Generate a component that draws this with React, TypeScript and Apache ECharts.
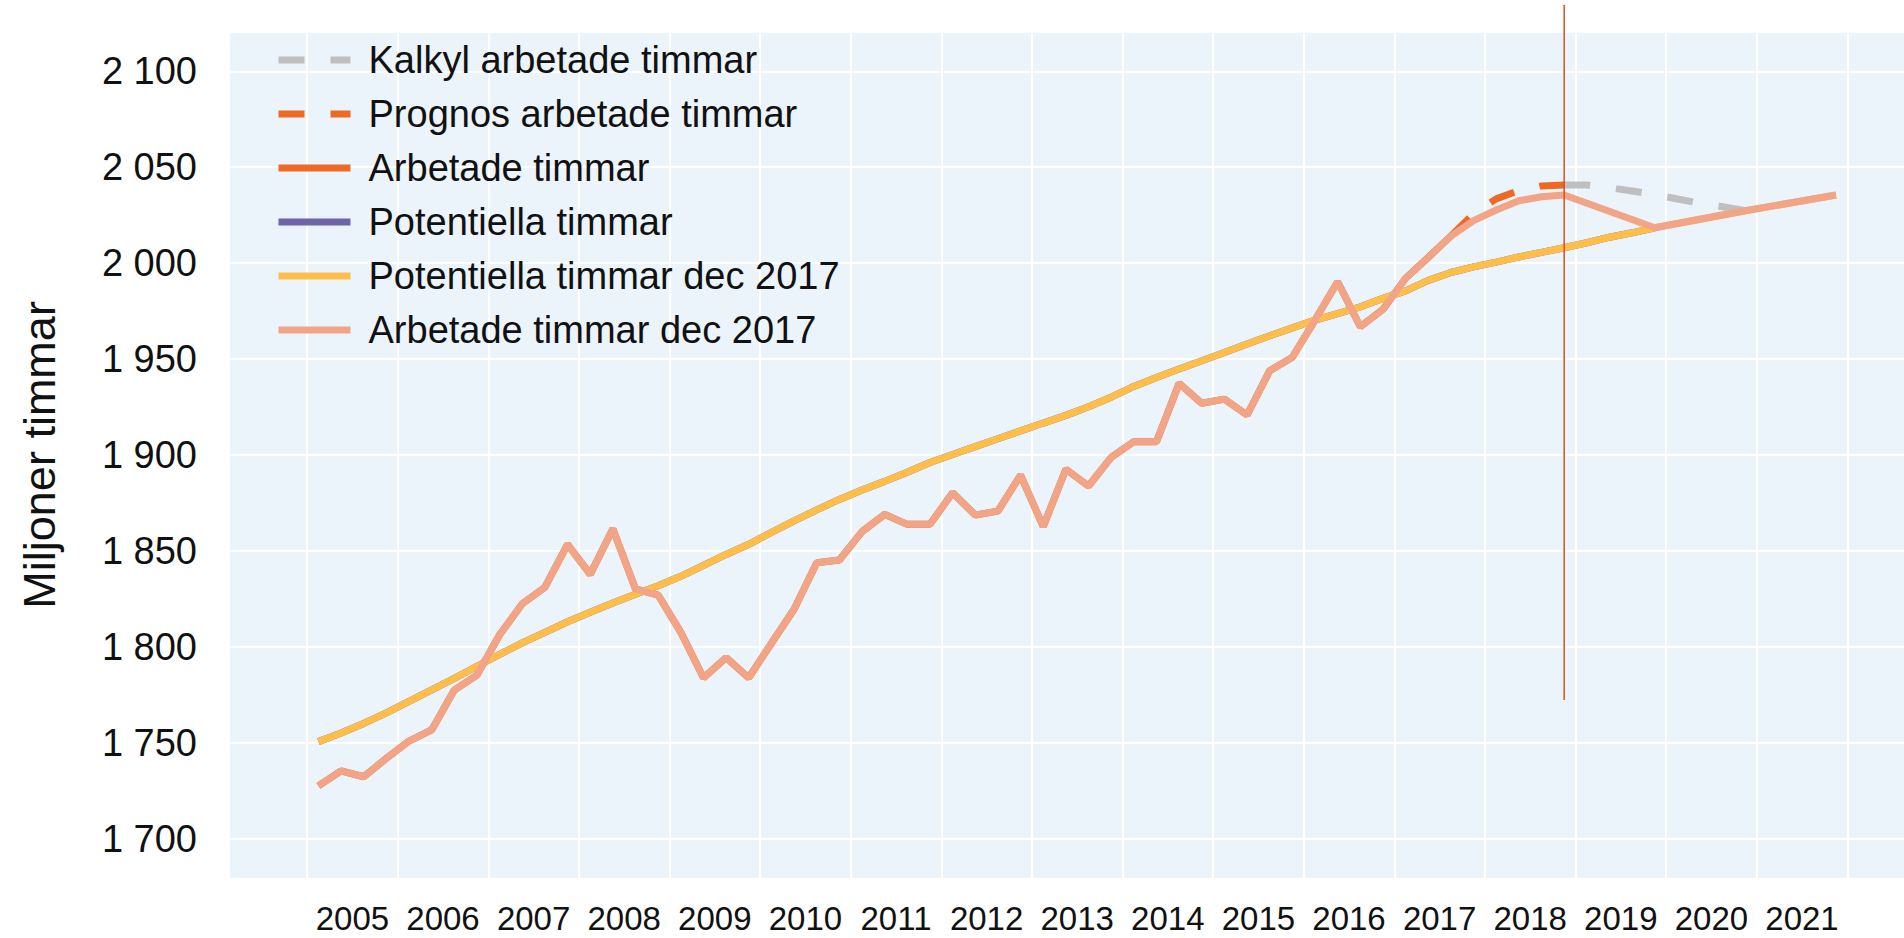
import React, { useEffect, useRef } from 'react';
import * as echarts from 'echarts';

// ---------- data ----------
const yearLabels = ['2005','2006','2007','2008','2009','2010','2011','2012','2013','2014','2015','2016','2017','2018','2019','2020','2021'];

// Arbetade timmar dec 2017, quarterly from 2005Q1 to 2018Q4
const arbetadeDec2017Start = '2005Q1';
const arbetadeDec2017Values = [
  1727.4, 1735.3, 1732.2, 1741.8, 1750.8, 1756.6, 1777.4, 1785.2,
  1806.2, 1822.4, 1831.0, 1853.4, 1837.7, 1861.4, 1830.1, 1826.9,
  1807.5, 1783.8, 1794.3, 1783.8, 1801.8, 1819.5, 1843.8, 1845.2,
  1860.0, 1869.0, 1863.8, 1863.8, 1880.3, 1868.6, 1870.7, 1889.5,
  1862.6, 1892.5, 1883.8, 1898.7, 1906.9, 1906.9, 1937.3, 1926.9,
  1929.1, 1920.8, 1943.9, 1950.9, 1970.3, 1990.3, 1966.8, 1975.9,
  1992.1, 2003.0, 2014.1, 2022.1, 2027.7, 2032.5, 2034.6, 2035.5,
];
// later (yearly) points of the same series
const arbetadeDec2017TailQuarters = ['2019Q4', '2020Q4', '2021Q4'];
const arbetadeDec2017TailValues = [2018.4, 2027.3, 2035.5];

// Potentiella timmar dec 2017, quarterly from 2005Q1 to 2019Q4
const potentiellaDec2017Start = '2005Q1';
const potentiellaDec2017Values = [
  1750.5, 1755.0, 1760.0, 1765.5, 1771.5, 1777.5, 1783.5, 1789.8,
  1796.0, 1802.0, 1807.5, 1813.0, 1818.0, 1822.8, 1827.3, 1831.8,
  1836.7, 1842.4, 1848.1, 1853.4, 1859.6, 1865.6, 1871.3, 1876.8,
  1881.7, 1886.2, 1891.0, 1896.0, 1900.2, 1904.3, 1908.4, 1912.5,
  1916.6, 1920.6, 1925.1, 1930.1, 1935.7, 1940.4, 1944.8, 1949.1,
  1953.4, 1957.8, 1962.1, 1966.2, 1970.3, 1973.7, 1977.2, 1981.6,
  1985.5, 1991.0, 1995.1, 1998.0, 2000.5, 2003.2, 2005.6, 2008.0,
  2010.6, 2013.5, 2015.8, 2018.4,
];
const potentiellaDec2017TailQuarters = ['2020Q4', '2021Q4'];
const potentiellaDec2017TailValues = [2027.3, 2035.5];

// Arbetade timmar (outcome), 2005Q1 - 2017Q3 (lies under the dec 2017 line)
const arbetadeCount = 51;
// Potentiella timmar (lies under the dec 2017 line)
const potentiellaCount = 60;

// Prognos arbetade timmar
const prognosStart = '2017Q3';
const prognosValues = [2014.1, 2025.7, 2033.5, 2037.8, 2040.2, 2040.7];

// Kalkyl arbetade timmar
const kalkylStart = '2018Q4';
const kalkylValues = [2040.7, 2040.7, 2039.3, 2037.6, 2035.7, 2033.4, 2031.2, 2029.4, 2027.3];

// vertical marker
const cutoffQuarter = '2018Q4';
const cutoffRange = [1772.2, 2134.6];

const seriesNames = [
  'Kalkyl arbetade timmar',
  'Prognos arbetade timmar',
  'Arbetade timmar',
  'Potentiella timmar',
  'Potentiella timmar dec 2017',
  'Arbetade timmar dec 2017',
];

// ---------- helpers ----------
function qx(label: string): number {
  const y = parseInt(label.slice(0, 4), 10);
  const q = parseInt(label.slice(5), 10);
  return y + (q - 0.5) / 4;
}
function quarterSeq(start: string, n: number): string[] {
  let y = parseInt(start.slice(0, 4), 10);
  let q = parseInt(start.slice(5), 10);
  const out: string[] = [];
  for (let i = 0; i < n; i++) {
    out.push(`${y}Q${q}`);
    q++;
    if (q > 4) { q = 1; y++; }
  }
  return out;
}
function pairs(quarters: string[], values: number[]): [number, number][] {
  return quarters.map((qq, i) => [qx(qq), values[i]] as [number, number]);
}
function fromStart(start: string, values: number[]): [number, number][] {
  return pairs(quarterSeq(start, values.length), values);
}

const FONT = "'Liberation Sans', Arial, Helvetica, sans-serif";
const TEXT = '#111111';
const LW = 7;

export default function App() {
  const ref = useRef<HTMLDivElement>(null);
  useEffect(() => {
    if (!ref.current) return;
    const chart = echarts.init(ref.current, undefined, { renderer: 'svg' });

    const arbDec = fromStart(arbetadeDec2017Start, arbetadeDec2017Values).concat(
      pairs(arbetadeDec2017TailQuarters, arbetadeDec2017TailValues)
    );
    const potDec = fromStart(potentiellaDec2017Start, potentiellaDec2017Values).concat(
      pairs(potentiellaDec2017TailQuarters, potentiellaDec2017TailValues)
    );
    const arb = fromStart(arbetadeDec2017Start, arbetadeDec2017Values.slice(0, arbetadeCount));
    const pot = fromStart(potentiellaDec2017Start, potentiellaDec2017Values.slice(0, potentiellaCount));
    const prog = fromStart(prognosStart, prognosValues);
    const kalk = fromStart(kalkylStart, kalkylValues);
    const cutX = qx(cutoffQuarter);

    const line = (name: string, data: any, color: string, dashed: boolean) => ({
      type: 'line',
      name,
      data,
      xAxisIndex: 0,
      yAxisIndex: 0,
      symbol: 'none',
      showSymbol: false,
      silent: true,
      lineStyle: { color, width: LW, type: dashed ? [26, 26] : 'solid' },
      itemStyle: { color },
      emphasis: { disabled: true },
    });

    chart.setOption({
      animation: false,
      textStyle: { fontFamily: FONT },
      graphic: {
        elements: [
          {
            type: 'rect',
            silent: true,
            z: -10,
            shape: { x: 230, y: 33, width: 1674, height: 845 },
            style: { fill: '#EBF3FB' },
          },
        ],
      },
      grid: {
        left: 216.5,
        top: -24.6,
        width: 1721.4,
        height: 959,
        containLabel: false,
        outerBoundsMode: 'none',
      },
      legend: {
        show: true,
        orient: 'vertical',
        left: 270,
        top: 36,
        itemWidth: 72,
        itemHeight: 38,
        itemGap: 16,
        selectedMode: false,
        data: seriesNames,
        itemStyle: { opacity: 0 },
        lineStyle: { width: LW },
        textStyle: { fontSize: 38, color: TEXT, fontFamily: FONT, padding: [0, 0, 0, 13] },
      },
      xAxis: [
        {
          type: 'value',
          min: 2004,
          max: 2023,
          interval: 1,
          position: 'bottom',
          axisLine: { show: false },
          axisTick: { show: false },
          axisLabel: { show: false },
          splitLine: {
            show: true,
            showMinLine: false,
            showMaxLine: false,
            lineStyle: { color: '#ffffff', width: 2 },
          },
        },
        {
          type: 'category',
          position: 'bottom',
          boundaryGap: true,
          data: [''].concat(yearLabels).concat(['']),
          axisLine: { show: false },
          axisTick: { show: false },
          splitLine: { show: false },
          axisLabel: {
            interval: 0,
            fontSize: 33,
            lineHeight: 26,
            verticalAlign: 'middle',
            color: TEXT,
            fontFamily: FONT,
            margin: -15.5,
          },
        },
      ],
      yAxis: {
        type: 'value',
        min: 1650,
        max: 2150,
        interval: 50,
        axisLine: { show: false },
        axisTick: { show: false },
        splitLine: {
          show: true,
          showMinLine: false,
          showMaxLine: false,
          lineStyle: { color: '#ffffff', width: 2 },
        },
        axisLabel: {
          fontSize: 38,
          color: TEXT,
          fontFamily: FONT,
          margin: 19.5,
          showMinLabel: false,
          showMaxLabel: false,
          formatter: (v: number) => {
            const th = Math.floor(v / 1000);
            const rest = String(Math.round(v % 1000)).padStart(3, '0');
            return th > 0 ? `${th} ${rest}` : rest;
          },
        },
        name: 'Miljoner timmar',
        nameLocation: 'middle',
        nameGap: 155,
        nameTextStyle: { fontSize: 45, color: TEXT, fontFamily: FONT },
      },
      series: [
        line(seriesNames[0], kalk, '#BFBFBF', true),
        line(seriesNames[1], prog, '#EE6A24', true),
        line(seriesNames[2], arb, '#EE6A24', false),
        line(seriesNames[3], pot, '#6E64AA', false),
        line(seriesNames[4], potDec, '#FFBE4A', false),
        line(seriesNames[5], arbDec, '#F2A487', false),
        {
          type: 'line',
          name: 'cutoff',
          data: [[cutX, cutoffRange[0]], [cutX, cutoffRange[1]]],
          symbol: 'none',
          silent: true,
          lineStyle: { color: '#D4521E', width: 1.5 },
          itemStyle: { color: '#D4521E' },
          emphasis: { disabled: true },
        },
      ],
    });
    return () => chart.dispose();
  }, []);
  return (
    <div
      ref={ref}
      style={{ position: 'absolute', left: 0, top: 0, width: 1904, height: 938 }}
    />
  );
}
